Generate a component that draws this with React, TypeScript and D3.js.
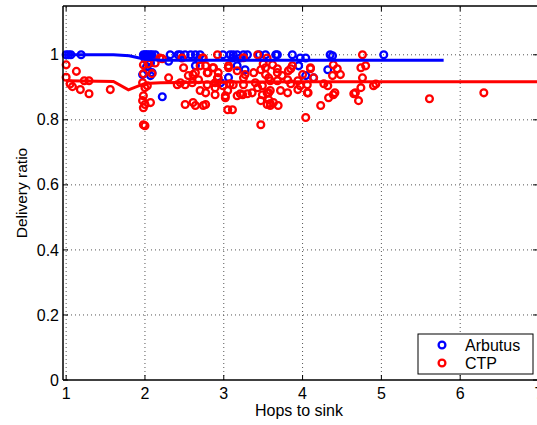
import React from "react";
import * as d3 from "d3";

const xTicks = [1, 2, 3, 4, 5, 6, 7];
const yTicks = [0, 0.2, 0.4, 0.6, 0.8, 1];
const seriesNames = ["Arbutus", "CTP"];
const seriesColors = ["#0000ff", "#ff0000"];

const arbutusPoints: [number, number][] = [
  [1.0, 1.0], [1.03, 1.0], [1.06, 1.0], [1.19, 1.0],
  [1.98, 1.0], [2.0, 1.0], [2.02, 1.0], [2.04, 1.0], [2.07, 1.0], [2.09, 1.0], [2.13, 1.0],
  [2.0, 0.988], [2.04, 0.98], [2.07, 0.975], [2.02, 0.963], [2.04, 0.951], [2.09, 0.945],
  [2.07, 0.936], [1.97, 0.939], [2.22, 0.871],
  [2.32, 1.0], [2.42, 1.0], [2.58, 1.0], [2.64, 1.0], [2.7, 1.0], [2.3, 0.98], [2.68, 0.985],
  [2.64, 0.966], [2.51, 1.0], [2.45, 1.0],
  [2.99, 1.0], [3.08, 1.0], [3.12, 1.0], [3.17, 1.0], [3.25, 1.0], [3.3, 1.0], [3.11, 0.99],
  [3.21, 0.99], [3.17, 0.966], [3.27, 0.954], [2.96, 0.914], [3.06, 0.93],
  [3.66, 1.0], [3.68, 1.0], [3.87, 1.0], [3.97, 0.99], [4.04, 0.99], [3.95, 0.966], [4.14, 0.929],
  [4.32, 0.954], [4.04, 0.936], [4.35, 1.0], [4.38, 0.997], [5.03, 1.0], [3.53, 1.0], [3.45, 1.0],
];

const ctpPoints: [number, number][] = [
  [1.0, 0.969], [1.13, 0.949], [1.0, 0.931], [1.05, 0.91], [1.08, 0.902], [1.18, 0.893],
  [1.23, 0.92], [1.29, 0.92], [1.29, 0.88], [1.56, 0.893],
  [1.98, 0.969], [2.04, 0.972], [2.13, 0.975], [2.19, 0.99], [2.22, 0.988], [1.98, 0.942],
  [2.09, 0.942], [1.97, 0.914], [2.03, 0.905], [1.98, 0.874], [1.97, 0.859], [2.0, 0.847],
  [2.07, 0.853], [1.98, 0.837], [1.98, 0.785], [2.0, 0.782], [2.0, 0.899],
  [2.3, 0.929], [2.41, 0.908], [2.49, 0.96], [2.55, 0.936], [2.61, 0.939], [2.51, 0.908],
  [2.6, 0.914], [2.68, 0.923], [2.7, 0.89], [2.51, 0.847], [2.61, 0.853], [2.64, 0.844],
  [2.74, 0.844], [2.47, 0.99], [2.7, 0.966], [2.73, 0.99], [2.45, 0.914], [2.64, 0.945],
  [2.8, 0.945], [2.86, 0.96], [2.93, 0.929], [2.89, 0.899], [3.05, 0.89], [3.02, 0.868],
  [2.74, 0.99], [2.92, 1.0], [2.77, 0.966], [2.79, 0.945], [2.87, 0.96], [2.93, 0.945],
  [3.06, 0.96], [3.06, 0.966], [3.17, 0.951], [3.27, 0.939], [3.38, 0.945], [3.47, 0.954],
  [3.53, 0.939], [2.79, 0.908], [2.89, 0.914], [2.99, 0.905], [3.12, 0.908], [3.25, 0.908],
  [3.4, 0.914], [3.49, 0.905], [2.77, 0.883], [2.89, 0.877], [3.02, 0.874], [3.17, 0.874],
  [3.24, 0.877], [3.36, 0.883], [3.49, 0.877], [2.77, 0.847], [3.05, 0.831], [3.11, 0.831],
  [3.47, 0.785], [3.55, 0.883], [3.55, 0.847], [3.25, 0.991], [3.43, 1.0], [3.21, 0.88],
  [3.3, 0.88], [3.5, 0.972], [3.53, 0.96], [3.68, 0.957], [3.85, 0.957], [4.1, 0.957],
  [3.08, 0.911], [3.25, 0.929], [2.92, 0.929], [3.43, 0.899], [3.59, 0.89], [3.85, 0.911],
  [3.68, 0.92], [3.47, 0.859], [3.59, 0.85], [3.72, 0.89], [3.81, 0.883], [4.06, 0.883],
  [3.57, 0.929],
  [3.55, 0.99], [3.62, 0.969], [3.68, 0.945], [3.59, 0.92], [3.74, 0.936], [3.82, 0.951],
  [3.87, 0.966], [3.81, 0.923], [3.94, 0.92], [4.06, 0.908], [3.97, 0.905], [4.1, 0.96],
  [3.57, 0.883], [3.94, 0.893], [4.07, 0.883], [3.57, 0.862], [3.63, 0.853], [3.69, 0.844],
  [3.59, 0.844], [4.23, 0.844], [4.04, 0.807], [4.0, 0.939],
  [4.27, 0.911], [4.32, 0.905], [4.38, 0.936], [4.14, 0.929], [4.39, 0.969], [4.44, 0.957],
  [4.48, 0.939], [4.76, 1.0], [4.74, 0.96], [4.8, 0.966], [4.76, 0.929], [4.9, 0.905],
  [4.74, 0.899], [4.67, 0.883], [4.71, 0.859], [4.39, 0.877], [4.33, 0.868], [4.41, 0.883],
  [4.65, 0.88], [4.93, 0.91],
  [5.61, 0.865], [6.3, 0.883],
];

const arbutusTrend: [number, number][] = [
  [1.0, 1.0], [1.6, 1.0], [1.8, 0.997], [2.0, 0.986], [2.2, 0.983], [3.0, 0.983], [4.0, 0.983], [5.79, 0.983],
];
const ctpTrend: [number, number][] = [
  [1.0, 0.92], [1.6, 0.918], [1.79, 0.892], [2.0, 0.912], [2.2, 0.914], [3.0, 0.916], [4.0, 0.917], [7.0, 0.917],
];

const W = 537;
const H = 425;
const left = 63;
const right = 539;
const top = 6;
const bottom = 380;

export default function App() {
  const x = d3.scaleLinear().domain([0.96, 7]).range([left, right]);
  const y = d3.scaleLinear().domain([0, 1.15]).range([bottom, top]);
  const line = d3
    .line<[number, number]>()
    .x((d) => x(d[0]))
    .y((d) => y(d[1]));
  const font = "'Liberation Sans', Arial, Helvetica, sans-serif";
  const grid = { stroke: "#555", strokeWidth: 1, strokeDasharray: "1,3" };
  const mr = 3.4;
  const mw = 2.3;

  return (
    <svg
      width={W}
      height={H}
      style={{ position: "absolute", left: 0, top: 0, background: "#fff" }}
      fontFamily={font}
    >
      <rect x={0} y={0} width={W} height={H} fill="#fff" />
      {xTicks.map((t) => (
        <line key={"gx" + t} x1={x(t)} x2={x(t)} y1={bottom} y2={top} {...grid} />
      ))}
      {yTicks
        .filter((t) => t > 0)
        .map((t) => (
          <line key={"gy" + t} x1={left} x2={right} y1={y(t)} y2={y(t)} {...grid} />
        ))}
      {xTicks.map((t) => (
        <g key={"tx" + t}>
          <line x1={x(t)} x2={x(t)} y1={bottom} y2={bottom - 5} stroke="#000" strokeWidth={1} />
          <line x1={x(t)} x2={x(t)} y1={top} y2={top + 5} stroke="#000" strokeWidth={1} />
          <text x={x(t)} y={399} fontSize={16} textAnchor="middle" fill="#000">
            {t}
          </text>
        </g>
      ))}
      {yTicks.map((t) => (
        <g key={"ty" + t}>
          <line x1={left} x2={left + 5} y1={y(t)} y2={y(t)} stroke="#000" strokeWidth={1} />
          <line x1={right} x2={right - 6} y1={y(t)} y2={y(t)} stroke="#000" strokeWidth={1} />
          <text x={59} y={y(t)} dy="0.35em" fontSize={16} textAnchor="end" fill="#000">
            {String(t)}
          </text>
        </g>
      ))}
      {arbutusPoints.map((p, i) => (
        <circle key={"a" + i} cx={x(p[0])} cy={y(p[1])} r={mr} fill="none" stroke={seriesColors[0]} strokeWidth={mw} />
      ))}
      {ctpPoints.map((p, i) => (
        <circle key={"c" + i} cx={x(p[0])} cy={y(p[1])} r={mr} fill="none" stroke={seriesColors[1]} strokeWidth={mw} />
      ))}
      <path d={line(arbutusTrend) || ""} fill="none" stroke={seriesColors[0]} strokeWidth={3} />
      <path d={line(ctpTrend) || ""} fill="none" stroke={seriesColors[1]} strokeWidth={3} />
      <line x1={left} x2={left} y1={top} y2={bottom} stroke="#000" strokeWidth={1.5} />
      <line x1={left} x2={W + 5} y1={bottom} y2={bottom} stroke="#000" strokeWidth={1.5} />
      <line x1={left} x2={W + 5} y1={top} y2={top} stroke="#000" strokeWidth={1.5} />
      <text x={299} y={416} fontSize={16} textAnchor="middle" fill="#000">
        Hops to sink
      </text>
      <text
        transform={`translate(27,${(top + bottom) / 2}) rotate(-90)`}
        fontSize={15.5}
        textAnchor="middle"
        fill="#000"
      >
        Delivery ratio
      </text>
      <rect x={418} y={334} width={115} height={40} fill="#fff" stroke="#000" strokeWidth={1} />
      {seriesNames.map((n, i) => (
        <g key={n}>
          <circle cx={442} cy={345 + i * 18} r={mr} fill="none" stroke={seriesColors[i]} strokeWidth={mw} />
          <text x={465} y={345 + i * 18} dy="0.35em" fontSize={16} fill="#000">
            {n}
          </text>
        </g>
      ))}
    </svg>
  );
}
